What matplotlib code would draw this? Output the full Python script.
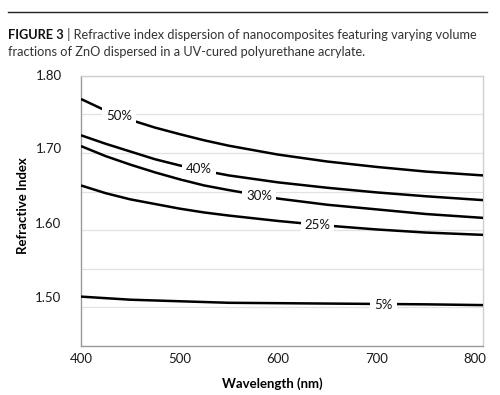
import numpy as np
import matplotlib
matplotlib.use("Agg")
import matplotlib.pyplot as plt
from matplotlib.lines import Line2D
from matplotlib.transforms import ScaledTranslation

plt.rcParams['font.family'] = ['Lato', 'DejaVu Sans']

# wavelength (nm) and refractive index
wavelength = [400, 425, 450, 475, 500, 525, 550, 600, 650, 700, 750, 808]
n_50 = [1.770, 1.755, 1.743, 1.733, 1.7245, 1.7165, 1.7095, 1.698, 1.689, 1.682, 1.676, 1.671]
n_40 = [1.723, 1.712, 1.702, 1.692, 1.684, 1.677, 1.671, 1.662, 1.655, 1.649, 1.644, 1.639]
n_30 = [1.709, 1.696, 1.685, 1.675, 1.666, 1.658, 1.652, 1.641, 1.633, 1.627, 1.621, 1.616]
n_25 = [1.658, 1.648, 1.640, 1.634, 1.628, 1.623, 1.619, 1.612, 1.606, 1.601, 1.597, 1.594]
n_05 = [1.514, 1.512, 1.510, 1.509, 1.508, 1.507, 1.506, 1.5055, 1.505, 1.5045, 1.504, 1.503]

series = [n_50, n_40, n_30, n_25, n_05]
labels = ['50%', '40%', '30%', '25%', '5%']
# where the inline label sits (wavelength, index)
label_x = [439, 520, 581, 640, 707]
label_y = [1.748, 1.679, 1.644, 1.607, 1.503]

x_ticks = [400, 500, 600, 700, 800]
y_ticks = [1.50, 1.60, 1.70, 1.80]
grid_y = [1.45, 1.50, 1.55, 1.60, 1.65, 1.70, 1.75, 1.80]

fig = plt.figure(figsize=(5.0, 3.95), dpi=100)
ax = fig.add_axes([0.162, 0.124, 0.804, 0.684])

for g in grid_y:
    ax.axhline(g, color='#e2e2e2', lw=0.9, zorder=0)

for vals in series:
    ax.plot(wavelength, vals, color='black', lw=1.8, solid_capstyle='butt',
            solid_joinstyle='round', zorder=3)

for lab, lx, ly in zip(labels, label_x, label_y):
    ax.text(lx, ly, lab, ha='center', va='center', fontsize=9.5, color='#111111',
            zorder=4, bbox=dict(boxstyle='square,pad=0.3', fc='white', ec='none'))

ax.set_xlim(400, 808)
ax.set_ylim(1.45, 1.80)
ax.set_xticks(x_ticks)
ax.set_yticks(y_ticks)
ax.set_yticklabels(['%.2f' % v for v in y_ticks])
ax.tick_params(axis='both', which='both', length=0, labelsize=9.5, colors='#1a1a1a')
ax.tick_params(axis='y', pad=14)
ax.tick_params(axis='x', pad=5)

# y labels in the original sit a little above their gridlines
for lbl, dy in zip(ax.get_yticklabels(), [10, 7, 5, 1]):
    lbl.set_transform(lbl.get_transform() + ScaledTranslation(0, dy / 100, fig.dpi_scale_trans))

for side in ['left', 'bottom']:
    ax.spines[side].set_color('#9a9a9a')
    ax.spines[side].set_linewidth(1.0)
for side in ['top', 'right']:
    ax.spines[side].set_color('#cfcfcf')
    ax.spines[side].set_linewidth(1.0)

ax.set_xlabel('Wavelength (nm)', fontsize=9.5, fontweight='bold')
ax.set_ylabel('Refractive Index', fontsize=9.5, fontweight='bold')
ax.xaxis.set_label_coords(0.475, -0.115)
ax.yaxis.set_label_coords(-0.13, 0.52)

# caption block
fig.add_artist(Line2D([0.016, 0.974], [0.970, 0.970], color='#222222', lw=1.0,
                      transform=fig.transFigure))
head = fig.text(0.016, 0.895, 'FIGURE 3', fontsize=9.2, fontweight='bold',
                color='#111111', va='bottom')
ax.annotate(' | Refractive index dispersion of nanocomposites featuring varying volume',
            xy=(1, 0), xycoords=head, va='bottom', fontsize=9.2,
            color='#333333', annotation_clip=False)
fig.text(0.016, 0.853, 'fractions of ZnO dispersed in a UV-cured polyurethane acrylate.',
         fontsize=9.2, color='#333333', va='bottom')

fig.savefig('out.png', dpi=100)
